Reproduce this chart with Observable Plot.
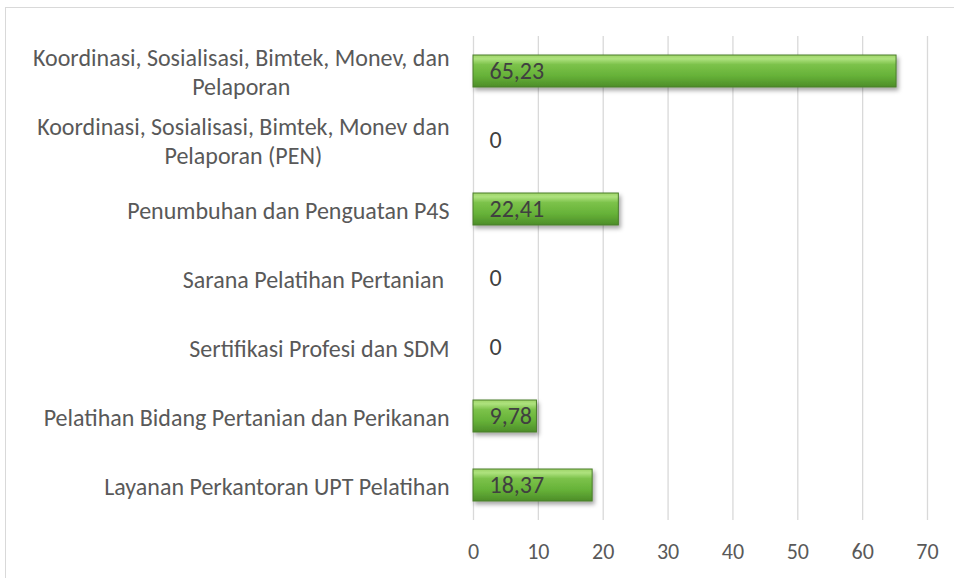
<!DOCTYPE html>
<html>
<head>
<meta charset="utf-8">
<script src="https://cdn.jsdelivr.net/npm/d3@7"></script>
<script src="https://cdn.jsdelivr.net/npm/@observablehq/plot@0.6"></script>
<style>
  html, body { margin: 0; padding: 0; background: #fff; overflow: hidden; }
  #wrap { position: relative; width: 954px; height: 578px; }
  #frame { position: absolute; left: 5px; top: 7px; width: 1200px; height: 1200px; border: 1px solid #d9d9d9; box-sizing: border-box; pointer-events: none; }
</style>
</head>
<body>
<div id="wrap"><div id="frame"></div></div>
<script>
const categories = [
  "Koordinasi, Sosialisasi, Bimtek, Monev, dan\nPelaporan",
  "Koordinasi, Sosialisasi, Bimtek, Monev dan\nPelaporan (PEN)",
  "Penumbuhan dan Penguatan P4S",
  "Sarana Pelatihan Pertanian ",
  "Sertifikasi Profesi dan SDM",
  "Pelatihan Bidang Pertanian dan Perikanan",
  "Layanan Perkantoran UPT Pelatihan"
];
const values = [65.23, 0, 22.41, 0, 0, 9.78, 18.37];
const xTicks = [0, 10, 20, 30, 40, 50, 60, 70];

const data = categories.map((c, i) => ({category: c, value: values[i]}));
const fmt = v => v === 0 ? "0" : d3.format(".2f")(v).replace(".", ",");

const chart = Plot.plot({
  width: 954,
  height: 578,
  marginLeft: 473,
  marginRight: 27,
  marginTop: 36,
  marginBottom: 58,
  style: {fontFamily: "Carlito, 'Open Sans', sans-serif", fontSize: "24px", color: "#595959", background: "transparent"},
  x: {domain: [0, 70]},
  y: {domain: categories, paddingInner: 0.54, paddingOuter: 0.27},
  marks: [
    Plot.gridX(xTicks, {stroke: "#d9d9d9", strokeOpacity: 1, strokeWidth: 1.3}),
    Plot.axisX(xTicks, {tickSize: 0, tickPadding: 23, fill: "#595959", label: null, fontSize: 22}),
    Plot.axisY({tickSize: 0, tickPadding: 24, label: null, lineHeight: 1.2, fill: "#595959", fontSize: 24}),
    Plot.barX(data.filter(d => d.value > 0), {x: "value", y: "category", fill: "url(#barGrad)", stroke: "#4a7d2b", strokeWidth: 1}),
    Plot.text(data, {x: 0, y: "category", text: d => fmt(d.value), textAnchor: "start", dx: 16, fill: "#404040", fontSize: 24})
  ]
});

const wrap = document.getElementById("wrap");
chart.style.position = "absolute";
chart.style.left = "0px";
chart.style.top = "0px";
wrap.insertBefore(chart, wrap.firstChild);

const svg = d3.select(chart);
const defs = svg.insert("defs", ":first-child");
const grad = defs.append("linearGradient").attr("id", "barGrad").attr("x1", 0).attr("y1", 0).attr("x2", 0).attr("y2", 1);
[[0, "#9ed468"], [0.12, "#aee27e"], [0.3, "#7cc24a"], [0.65, "#66b238"], [1, "#4d8d29"]].forEach(([o, c]) =>
  grad.append("stop").attr("offset", o).attr("stop-color", c));
const f = defs.append("filter").attr("id", "shadow").attr("x", "-10%").attr("y", "-30%").attr("width", "130%").attr("height", "180%");
f.append("feDropShadow").attr("dx", 2).attr("dy", 3).attr("stdDeviation", 2).attr("flood-color", "#000").attr("flood-opacity", 0.35);
svg.selectAll('g[aria-label="bar"]').attr("filter", "url(#shadow)");

// center multi-line y tick labels relative to each other
svg.selectAll('g[aria-label="y-axis tick label"] text').each(function() {
  const spans = d3.select(this).selectAll("tspan").nodes();
  if (spans.length < 2) return;
  const widths = spans.map(s => s.getComputedTextLength());
  const W = Math.max(...widths);
  spans.forEach((s, i) => s.setAttribute("x", -(W - widths[i]) / 2));
});
</script>
</body>
</html>
